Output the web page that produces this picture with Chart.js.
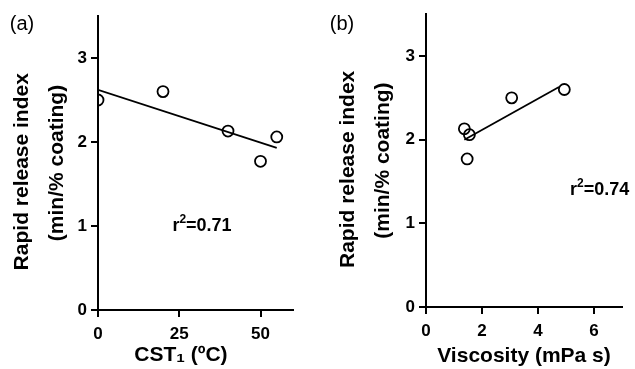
<!DOCTYPE html>
<html lang="en">
<head>
<meta charset="UTF-8" />
<title>Rapid release index vs CST1 and viscosity</title>
<script src="https://cdn.jsdelivr.net/npm/chart.js"></script>
<style>
  body { margin: 0; background: #fff; }
  .panel { position: absolute; top: 0; }
</style>
</head>
<body>
<div class="panel" style="left:0"><canvas id="chartA" width="317" height="369"></canvas></div>
<div class="panel" style="left:317px"><canvas id="chartB" width="318" height="369"></canvas></div>

<script>
// same five coatings in both panels
const releaseIndex = [2.5, 2.6, 2.13, 1.77, 2.06];
const cst1 = [0, 20, 40, 50, 55];
const viscosity = [3.06, 4.94, 1.37, 1.47, 1.55];

// regression lines
const fitAx = [0, 55];
const fitAy = [2.62, 1.93];
const fitBx = [1.37, 4.75];
const fitBy = [2.0, 2.63];

const yTicks = [0, 1, 2, 3];
const xTicksA = [0, 25, 50];
const xTicksB = [0, 2, 4, 6];

const FONT = "'Liberation Sans', Arial, sans-serif";

function toPoints(xs, ys) {
  return xs.map((x, i) => ({ x: x, y: ys[i] }));
}

function axis(min, max, step, pad) {
  return {
    type: "linear",
    min: min,
    max: max,
    border: { color: "#000", width: 2 },
    grid: { drawOnChartArea: false, drawTicks: true, tickLength: 7, color: "#000", lineWidth: 2 },
    ticks: {
      stepSize: step,
      includeBounds: false,
      color: "#000",
      padding: pad,
      font: { family: FONT, size: 17, weight: "bold" }
    }
  };
}

function datasets(xs, fitX, fitY) {
  return [
    {
      type: "scatter",
      data: toPoints(xs, releaseIndex),
      pointStyle: "circle",
      pointRadius: 5.5,
      pointBorderWidth: 1.8,
      borderColor: "#000",
      backgroundColor: "rgba(0,0,0,0)"
    },
    {
      type: "line",
      data: toPoints(fitX, fitY),
      borderColor: "#000",
      borderWidth: 1.8,
      pointRadius: 0,
      fill: false
    }
  ];
}

// panel letters and r² notes
const notes = {
  id: "notes",
  afterDraw(chart, args, opts) {
    const ctx = chart.ctx;
    ctx.save();
    ctx.fillStyle = "#000";
    ctx.textBaseline = "middle";
    ctx.textAlign = "center";
    ctx.font = "20px " + FONT;
    ctx.fillText(opts.panel, opts.panelX, opts.panelY);

    // r, superscript 2, then the value
    const big = "bold 18px " + FONT;
    const small = "bold 12px " + FONT;
    ctx.textAlign = "left";
    ctx.font = big;
    const wR = ctx.measureText("r").width;
    const wRest = ctx.measureText(opts.rValue).width;
    ctx.font = small;
    const w2 = ctx.measureText("2").width;
    const cx = chart.scales.x.getPixelForValue(opts.rX);
    const cy = chart.scales.y.getPixelForValue(opts.rY);
    let x = cx - (wR + w2 + wRest) / 2;
    ctx.font = big;
    ctx.fillText("r", x, cy);
    x += wR;
    ctx.font = small;
    ctx.fillText("2", x, cy - 6);
    x += w2;
    ctx.font = big;
    ctx.fillText(opts.rValue, x, cy);
    ctx.restore();
  }
};

function yAxis(width, titlePad) {
  const a = axis(0, 3.5, 1, 4);
  a.afterFit = s => { s.width = width; };
  a.title = {
    display: true,
    text: ["Rapid release index   ", "(min/% coating)"],
    color: "#000",
    padding: { top: titlePad, bottom: 0 },
    font: { family: FONT, size: 21, weight: "bold", lineHeight: 1.67 }
  };
  return a;
}

function xAxis(min, max, step, height, text, titlePad) {
  const a = axis(min, max, step, 7);
  a.afterFit = s => { s.height = height; };
  a.title = {
    display: true,
    text: text,
    color: "#000",
    padding: { top: 0, bottom: titlePad },
    font: { family: FONT, size: 21, weight: "bold" }
  };
  return a;
}

new Chart(document.getElementById("chartA"), {
  data: { datasets: datasets(cst1, fitAx, fitAy) },
  options: {
    responsive: false,
    animation: false,
    layout: { padding: { top: 16, right: 24, left: 0, bottom: 0 } },
    plugins: {
      legend: { display: false },
      tooltip: { enabled: false },
      notes: { panel: "(a)", panelX: 22, panelY: 24, rValue: "=0.71", rX: 32, rY: 1.0 }
    },
    scales: {
      x: xAxis(0, 60, 25, 59, "CST₁ (ºC)     ", 1),
      y: yAxis(98, 5)
    }
  },
  plugins: [notes]
});

new Chart(document.getElementById("chartB"), {
  data: { datasets: datasets(viscosity, fitBx, fitBy) },
  options: {
    responsive: false,
    animation: false,
    layout: { padding: { top: 14, right: 13, left: 0, bottom: 0 } },
    plugins: {
      legend: { display: false },
      tooltip: { enabled: false },
      notes: { panel: "(b)", panelX: 25, panelY: 24, rValue: "=0.74", rX: 6.2, rY: 1.4 }
    },
    scales: {
      x: xAxis(0, 7, 2, 62, "Viscosity (mPa s)", 0),
      y: yAxis(109, 13.5)
    }
  },
  plugins: [notes]
});
</script>
</body>
</html>
